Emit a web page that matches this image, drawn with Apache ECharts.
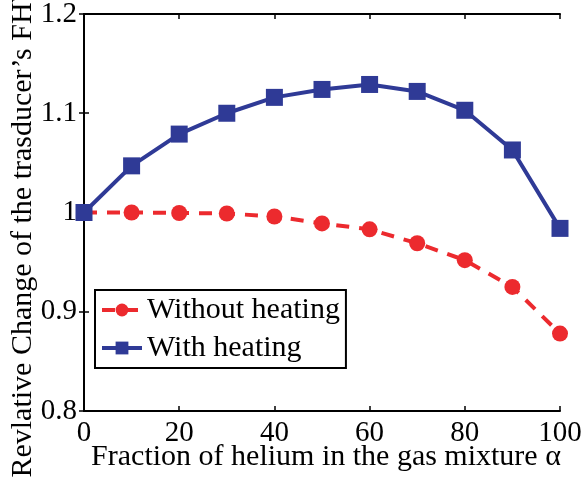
<!DOCTYPE html>
<html>
<head>
<meta charset="utf-8">
<script src="https://cdn.jsdelivr.net/npm/echarts@6/dist/echarts.min.js"></script>
<style>html,body{margin:0;padding:0;background:#fff;}#c{width:584px;height:480px;}</style>
</head>
<body>
<div id="c"></div>
<script>
const xValues = [0, 10, 20, 30, 40, 50, 60, 70, 80, 90, 100];
const withoutHeating = [1.000, 1.000, 0.9995, 0.999, 0.996, 0.989, 0.983, 0.969, 0.952, 0.925, 0.878];
const withHeating = [1.000, 1.047, 1.079, 1.100, 1.116, 1.124, 1.129, 1.122, 1.103, 1.063, 0.984];
const seriesNames = ['Without heating', 'With heating'];
const xTitle = 'Fraction of helium in the gas mixture \u03b1';
const yTitle = 'Revlative Change of the trasducer\u2019s FHWM';

const FONT = 'Liberation Serif';
const red = '#EC2A2E';
const blue = '#2F3A96';

const chart = echarts.init(document.getElementById('c'));
const axisLine = { show: true, lineStyle: { color: '#000', width: 2 } };
const tick = { show: true, inside: true, length: 5, lineStyle: { color: '#000', width: 1.5 } };

chart.setOption({
  animation: false,
  backgroundColor: '#fff',
  grid: { left: 84, right: 24, top: 14, bottom: 69, containLabel: false, outerBoundsMode: 'none' },
  legend: {
    left: 95, top: 290,
    orient: 'vertical',
    data: [
      { name: seriesNames[0], lineStyle: { width: 4 } },
      { name: seriesNames[1], lineStyle: { width: 4 } }
    ],
    borderColor: '#000', borderWidth: 2,
    padding: [5, 6, 5, 5],
    itemGap: 8,
    itemWidth: 40, itemHeight: 16,
    textStyle: { fontFamily: FONT, fontSize: 30, color: '#000' },
    backgroundColor: '#fff'
  },
  xAxis: [{
    type: 'value', min: 0, max: 100, interval: 20,
    name: xTitle, nameLocation: 'middle', nameGap: 31, nameMoveOverlap: false,
    nameTextStyle: { fontFamily: FONT, fontSize: 30, color: '#000', padding: [0, 0, 0, 8] },
    axisLine: axisLine, axisTick: tick,
    axisLabel: { fontFamily: FONT, fontSize: 29, color: '#000', margin: 8 },
    splitLine: { show: false }
  }, {
    type: 'value', min: 0, max: 100, interval: 20, position: 'top',
    axisLine: axisLine, axisTick: tick, axisLabel: { show: false }, splitLine: { show: false }
  }],
  yAxis: [{
    type: 'value', min: 0.8, max: 1.2, interval: 0.1,
    name: yTitle, nameLocation: 'middle', nameGap: 46, nameMoveOverlap: false,
    nameTextStyle: { fontFamily: FONT, fontSize: 30, color: '#000' },
    axisLine: axisLine, axisTick: tick,
    axisLabel: { fontFamily: FONT, fontSize: 29, color: '#000', margin: 7,
      formatter: v => (Math.abs(v - 1) < 1e-9 ? '1' : v.toFixed(1)) },
    splitLine: { show: false }
  }, {
    type: 'value', min: 0.8, max: 1.2, interval: 0.1, position: 'right',
    axisLine: axisLine, axisTick: tick, axisLabel: { show: false }, splitLine: { show: false }
  }],
  series: [{
    name: seriesNames[0], type: 'line',
    data: xValues.map((x, i) => [x, withoutHeating[i]]),
    symbol: 'circle', symbolSize: 16,
    itemStyle: { color: red },
    lineStyle: { color: red, width: 4, type: [13, 10] },
    z: 3
  }, {
    name: seriesNames[1], type: 'line',
    data: xValues.map((x, i) => [x, withHeating[i]]),
    symbol: 'rect', symbolSize: 17,
    itemStyle: { color: blue },
    lineStyle: { color: blue, width: 4 },
    z: 4
  }]
});
</script>
</body>
</html>
